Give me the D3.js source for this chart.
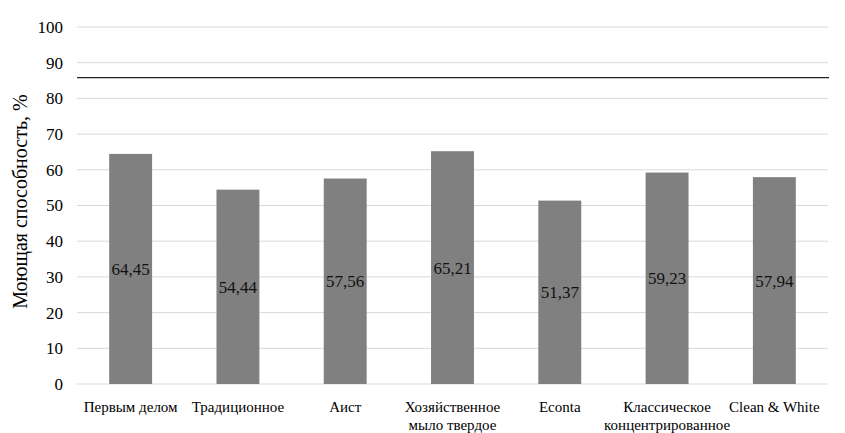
<!DOCTYPE html>
<html>
<head>
<meta charset="utf-8">
<script src="https://cdn.jsdelivr.net/npm/d3@7"></script>
<style>
  body { margin: 0; background: #fff; }
</style>
</head>
<body>
<svg id="chart" width="845" height="433"></svg>
<script>
// product names (two-line labels split with \n)
const categories = [
  'Первым делом',
  'Традиционное',
  'Аист',
  'Хозяйственное\nмыло твердое',
  'Econta',
  'Классическое\nконцентрированное',
  'Clean & White'
]
const values = [64.45, 54.44, 57.56, 65.21, 51.37, 59.23, 57.94]
const yTicks = [0, 10, 20, 30, 40, 50, 60, 70, 80, 90, 100]
const referenceLevel = 85.8
const yTitle = 'Моющая способность, %'

const font = 'Liberation Serif'

const margin = { top: 27, right: 17, bottom: 49, left: 77 }
const width = 845 - margin.left - margin.right
const height = 433 - margin.top - margin.bottom

const svg = d3.select('#chart')
const g = svg.append('g')
  .attr('transform', `translate(${margin.left},${margin.top})`)

const x = d3.scaleBand()
  .domain(categories)
  .range([0, width])
  .paddingInner(0.6)
  .paddingOuter(0.3)

const y = d3.scaleLinear()
  .domain([0, 100])
  .range([height, 0])

// horizontal gridlines
g.append('g')
  .selectAll('line')
  .data(yTicks)
  .enter()
  .append('line')
  .attr('x1', 0)
  .attr('x2', width)
  .attr('y1', d => y(d))
  .attr('y2', d => y(d))
  .attr('stroke', '#d9d9d9')
  .attr('stroke-width', 1)

// y axis labels
const yAxis = g.append('g')
  .call(d3.axisLeft(y).tickValues(yTicks).tickSize(0).tickPadding(14))
yAxis.select('.domain').remove()
yAxis.selectAll('text')
  .style('font-family', font, 'important')
  .style('font-size', '17px')
  .attr('fill', '#000')

// bars
g.append('g')
  .selectAll('rect')
  .data(values)
  .enter()
  .append('rect')
  .attr('x', (d, i) => x(categories[i]))
  .attr('y', d => y(d))
  .attr('width', x.bandwidth())
  .attr('height', d => height - y(d))
  .attr('fill', '#808080')

// value labels in the middle of each bar
g.append('g')
  .selectAll('text')
  .data(values)
  .enter()
  .append('text')
  .attr('x', (d, i) => x(categories[i]) + x.bandwidth() / 2)
  .attr('y', d => y(d / 2))
  .attr('dy', '0.35em')
  .attr('text-anchor', 'middle')
  .style('font-family', font, 'important')
  .style('font-size', '17px')
  .attr('fill', '#111')
  .text(d => d.toFixed(2).replace('.', ','))

// reference line
g.append('line')
  .attr('x1', 0)
  .attr('x2', width + 1)
  .attr('y1', y(referenceLevel))
  .attr('y2', y(referenceLevel))
  .attr('stroke', '#222')
  .attr('stroke-width', 1.3)

// category labels
const xLabels = g.append('g')
  .selectAll('text')
  .data(categories)
  .enter()
  .append('text')
  .attr('x', d => x(d) + x.bandwidth() / 2)
  .attr('y', height + 28)
  .attr('text-anchor', 'middle')
  .style('font-family', font, 'important')
  .style('font-size', '15px')
  .attr('fill', '#000')

xLabels.selectAll('tspan')
  .data(d => d.split('\n'))
  .enter()
  .append('tspan')
  .attr('x', function () { return d3.select(this.parentNode).attr('x') })
  .attr('dy', (d, i) => i === 0 ? 0 : '1.2em')
  .style('font-family', font, 'important')
  .text(d => d)

// y axis title
svg.append('text')
  .attr('transform', `translate(27,${margin.top + height / 2 - 4}) rotate(-90)`)
  .attr('text-anchor', 'middle')
  .style('font-family', font, 'important')
  .style('font-size', '20px')
  .attr('fill', '#000')
  .text(yTitle)
</script>
</body>
</html>
